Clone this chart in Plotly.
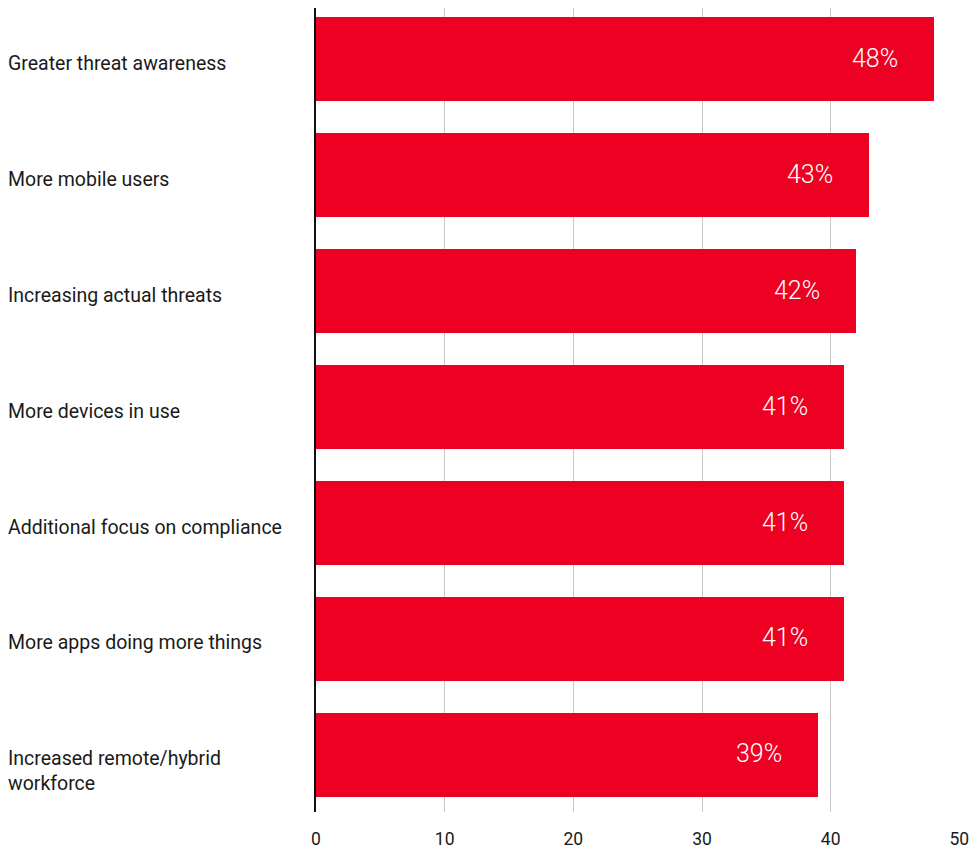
import plotly.graph_objects as go

# Survey drivers and the share of respondents citing each
categories = [
    "Greater threat awareness",
    "More mobile users",
    "Increasing actual threats",
    "More devices in use",
    "Additional focus on compliance",
    "More apps doing more things",
    "Increased remote/hybrid<br>workforce",
]
values = [48, 43, 42, 41, 41, 41, 39]
x_ticks = [0, 10, 20, 30, 40, 50]

RED = "#EE0022"
TEXT = "#1a1a1a"
FONT = "Roboto, Liberation Sans, Arial, sans-serif"

positions = list(range(len(categories)))

fig = go.Figure(
    go.Bar(
        x=values,
        y=positions,
        orientation="h",
        marker=dict(color=RED, line=dict(width=0)),
        width=0.725,
        hoverinfo="skip",
    )
)

annotations = []
# value labels inside the bar ends
for pos, val in zip(positions, values):
    annotations.append(
        dict(
            x=val, y=pos, xref="x", yref="y",
            text=f"{val}%", showarrow=False,
            xanchor="right", yanchor="middle",
            xshift=-34, yshift=1,
            font=dict(family=FONT, size=25, color="white", weight=300),
        )
    )
# left-aligned category labels; wrapped labels keep their first line level with the rest
for pos, cat in zip(positions, categories):
    n_lines = cat.count("<br>") + 1
    annotations.append(
        dict(
            x=-0.481, y=pos, xref="paper", yref="y",
            text=cat, showarrow=False,
            xanchor="left", yanchor="middle", align="left",
            yshift=-4 - 12.5 * (n_lines - 1),
            font=dict(family=FONT, size=19.5, color=TEXT),
        )
    )

fig.update_layout(
    width=969,
    height=850,
    margin=dict(l=316, r=9, t=8, b=38, autoexpand=False),
    paper_bgcolor="white",
    plot_bgcolor="white",
    showlegend=False,
    annotations=annotations,
    bargap=0,
    xaxis=dict(
        range=[0, 50.05],
        tickvals=x_ticks,
        ticktext=[str(t) for t in x_ticks],
        showgrid=True,
        gridcolor="#c8c8c8",
        gridwidth=1,
        zeroline=False,
        showline=False,
        ticks="outside",
        ticklen=11,
        tickcolor="rgba(0,0,0,0)",
        tickfont=dict(family=FONT, size=17.5, color=TEXT),
        ticklabeloverflow="allow",
        automargin=False,
        fixedrange=True,
    ),
    yaxis=dict(
        range=[6.493, -0.444],
        showticklabels=False,
        showgrid=False,
        zeroline=False,
        showline=True,
        linecolor="#111111",
        linewidth=2,
        ticks="",
        automargin=False,
        fixedrange=True,
    ),
)

fig.write_html("out.html", config={"displayModeBar": False})
